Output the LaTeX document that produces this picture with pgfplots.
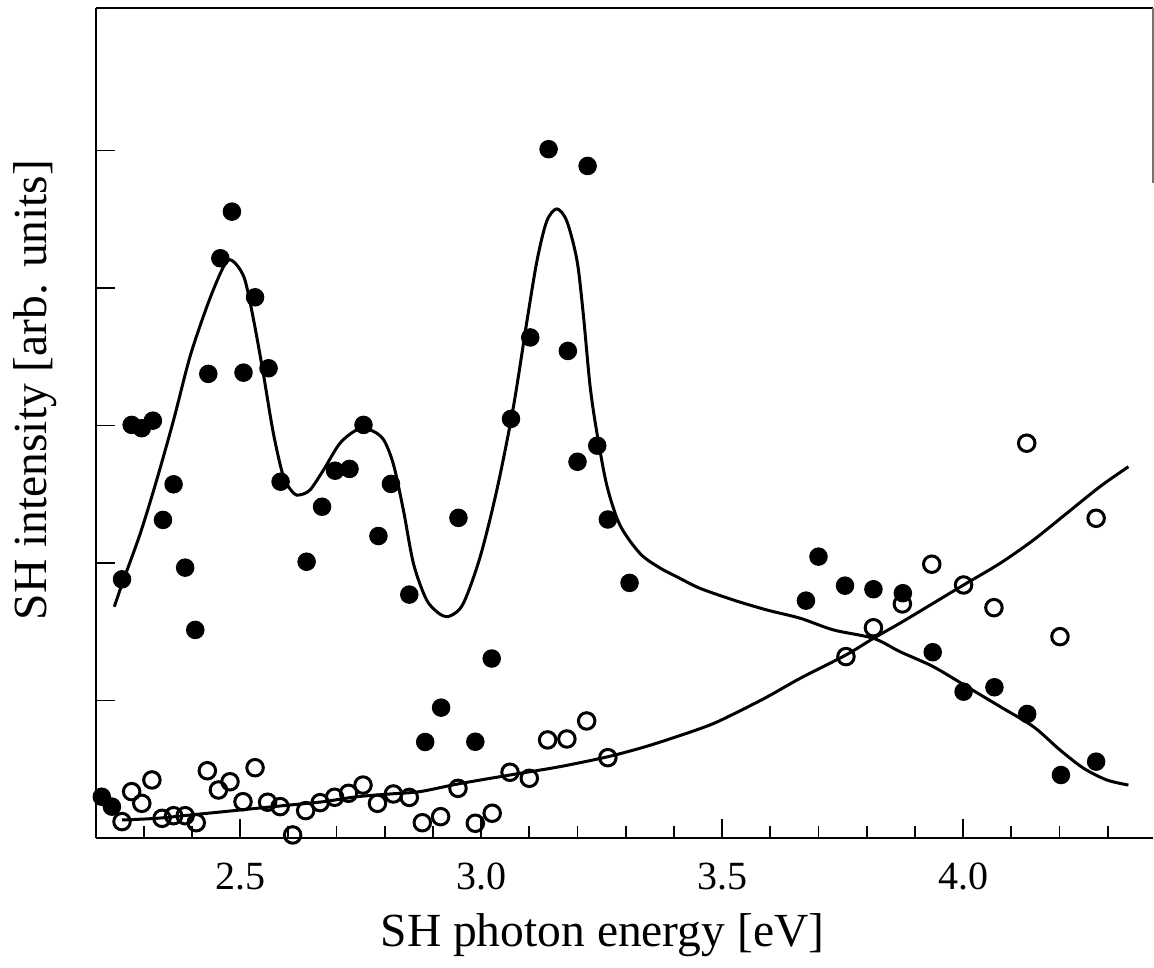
\documentclass[border=0pt]{standalone}
\usepackage{pgfplots}
\pgfplotsset{compat=1.18}
\usepackage{fontspec}
\setmainfont{Liberation Serif}

\pgfplotstableread{
x y
2.213 0.300
2.234 0.228
2.255 1.881
2.275 3.004
2.296 2.980
2.319 3.035
2.340 2.313
2.362 2.572
2.386 1.966
2.407 1.513
2.434 3.375
2.459 4.216
2.483 4.555
2.507 3.384
2.531 3.932
2.559 3.416
2.584 2.591
2.638 2.009
2.670 2.409
2.697 2.671
2.727 2.684
2.756 3.004
2.787 2.196
2.813 2.575
2.851 1.770
2.884 0.698
2.917 0.948
2.953 2.328
2.988 0.700
3.022 1.305
3.062 3.048
3.102 3.640
3.140 5.009
3.180 3.542
3.200 2.736
3.221 4.887
3.241 2.853
3.263 2.316
3.308 1.855
3.674 1.726
3.700 2.046
3.755 1.835
3.814 1.809
3.875 1.780
3.937 1.351
4.001 1.064
4.065 1.096
4.133 0.902
4.203 0.458
4.276 0.555
}\filled

\pgfplotstableread{
x y
2.255 0.119
2.275 0.337
2.296 0.252
2.317 0.422
2.338 0.143
2.362 0.162
2.386 0.162
2.409 0.111
2.432 0.489
2.455 0.349
2.479 0.409
2.506 0.264
2.531 0.511
2.557 0.260
2.583 0.228
2.609 0.022
2.636 0.199
2.666 0.257
2.696 0.296
2.725 0.325
2.755 0.385
2.785 0.252
2.818 0.320
2.851 0.295
2.878 0.111
2.916 0.155
2.952 0.361
2.988 0.107
3.023 0.180
3.060 0.478
3.100 0.434
3.138 0.713
3.178 0.720
3.219 0.851
3.263 0.584
3.757 1.319
3.814 1.529
3.874 1.702
3.935 1.991
4.001 1.840
4.064 1.675
4.132 2.871
4.201 1.464
4.276 2.325
}\opened

\pgfplotstableread{
x y
2.239 1.682
2.258 1.876
2.293 2.216
2.327 2.604
2.362 3.040
2.396 3.500
2.431 3.864
2.459 4.107
2.476 4.204
2.493 4.167
2.510 4.058
2.528 3.767
2.548 3.380
2.569 2.943
2.590 2.628
2.611 2.507
2.624 2.495
2.645 2.531
2.673 2.676
2.707 2.870
2.742 2.967
2.770 2.967
2.797 2.900
2.818 2.718
2.839 2.380
2.860 1.991
2.887 1.731
2.915 1.627
2.936 1.615
2.963 1.705
2.998 2.044
3.033 2.536
3.067 3.135
3.095 3.757
3.116 4.199
3.136 4.484
3.157 4.575
3.178 4.484
3.199 4.199
3.212 3.809
3.226 3.290
3.240 2.952
3.261 2.562
3.288 2.276
3.330 2.068
3.371 1.964
3.413 1.887
3.454 1.816
3.523 1.731
3.593 1.658
3.662 1.598
3.731 1.513
3.814 1.452
3.869 1.355
3.938 1.246
4.008 1.100
4.077 0.955
4.146 0.809
4.201 0.640
4.250 0.507
4.298 0.422
4.343 0.385
}\fitfilled

\pgfplotstableread{
x y
2.255 0.131
2.327 0.143
2.396 0.167
2.465 0.191
2.535 0.216
2.604 0.240
2.673 0.264
2.742 0.300
2.811 0.320
2.873 0.337
2.952 0.393
3.060 0.458
3.164 0.519
3.263 0.591
3.337 0.660
3.406 0.737
3.475 0.822
3.523 0.900
3.593 1.025
3.662 1.161
3.757 1.331
3.814 1.452
3.869 1.562
3.938 1.707
4.001 1.840
4.077 1.998
4.146 2.167
4.215 2.361
4.284 2.555
4.343 2.700
}\fitopened

\begin{document}
\begin{tikzpicture}
\useasboundingbox (0,0) rectangle (461.6pt,387.2pt);
\begin{axis}[
  at={(38.4pt,52pt)}, anchor=south west,
  scale only axis,
  width=422.8pt, height=332pt,
  xmin=2.201, xmax=4.394,
  ymin=0, ymax=6.036,
  axis x line*=bottom, axis y line*=left,
  axis line style={line width=1pt, black},
  tick align=inside,
  xtick={2.5,3.0,3.5,4.0},
  xticklabels={2.5,3.0,3.5,4.0},
  minor xtick={2.3,2.4,2.6,2.7,2.8,2.9,3.1,3.2,3.3,3.4,3.6,3.7,3.8,3.9,4.1,4.2,4.3},
  ytick={1,2,3,4,5},
  yticklabels={},
  major tick length=7.4pt,
  minor tick length=4.8pt,
  every tick/.style={black, line width=0.7pt},
  /pgf/number format/assume math mode=true,
  xticklabel style={font=\fontsize{16}{19}\selectfont, anchor=base, yshift=-20.8pt},
  xlabel={SH photon energy [eV]},
  ylabel={SH intensity [arb. units]},
  xlabel style={font=\fontsize{19}{23}\selectfont, at={(axis description cs:0.4792,-0.1313)}, anchor=base},
  ylabel style={font=\fontsize{19}{23}\selectfont, at={(axis description cs:-0.0464,0.5398)}, anchor=base},
  clip=false,
]
\addplot[black, line width=1.2pt, smooth, no marks] table[x=x,y=y] {\fitfilled};
\addplot[black, line width=1.2pt, smooth, no marks] table[x=x,y=y] {\fitopened};
\addplot[only marks, mark=*, mark size=3.5pt, mark options={fill=black, draw=black}] table[x=x,y=y] {\filled};
\addplot[only marks, mark=o, mark size=3.3pt, mark options={draw=black, fill=white, line width=1.2pt}] table[x=x,y=y] {\opened};
\draw[line width=0.8pt, black] (axis description cs:0,1) -- (axis description cs:1,1);
\draw[line width=0.8pt, black!55] (axis description cs:1,1) -- (axis description cs:1,0.789);
\end{axis}
\end{tikzpicture}
\end{document}
